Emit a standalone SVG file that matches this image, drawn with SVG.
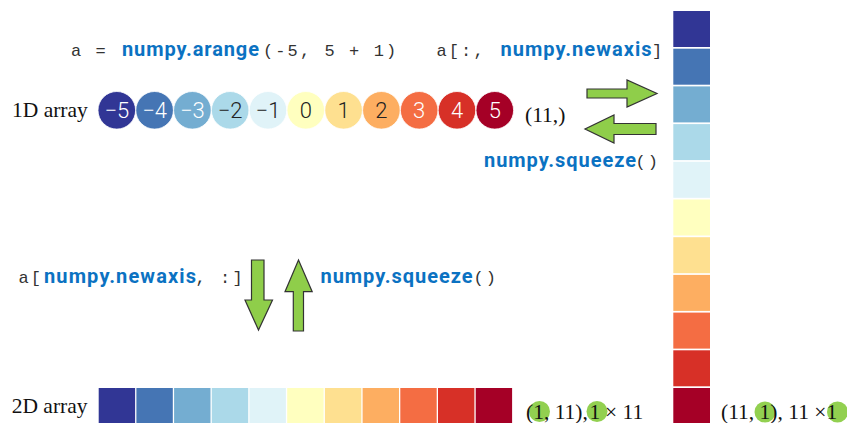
<svg xmlns="http://www.w3.org/2000/svg" width="847" height="423" viewBox="0 0 847 423">
<style>
.mono{font-family:"Liberation Mono","DejaVu Sans Mono",monospace;font-size:17px;fill:#333;letter-spacing:2.1px}
.np{font-family:Roboto,"Liberation Sans",sans-serif;font-weight:bold;font-size:20px;fill:#0b72c2}
.serif{font-family:"Liberation Serif","DejaVu Serif",serif;font-size:21.5px;fill:#111}
.num{font-family:Roboto,"Liberation Sans",sans-serif;font-weight:300;font-size:22px;text-anchor:middle}
.w{fill:#fff}.d{fill:#222}
.arrow{fill:#8fce4a;stroke:#333;stroke-width:1.2;stroke-linejoin:miter}
.hl{fill:#92d050}
.c0{fill:#313695}.c1{fill:#4575b4}.c2{fill:#74add1}.c3{fill:#abd9e9}.c4{fill:#e0f3f8}.c5{fill:#ffffbf}.c6{fill:#fee090}.c7{fill:#fdae61}.c8{fill:#f46d43}.c9{fill:#d73027}.c10{fill:#a50026}
.dot{stroke:#fff;stroke-width:0.8}
</style>

<g id="code-top">
<text class="mono" x="71" y="56">a =</text>
<text class="np" x="122" y="56" textLength="137" lengthAdjust="spacing">numpy.arange</text>
<text class="mono" x="263" y="56" xml:space="preserve">(-5, 5 + 1)</text>
<text class="mono" x="436.5" y="56">a[:,</text>
<text class="np" x="500.5" y="56" textLength="151" lengthAdjust="spacing">numpy.newaxis</text>
<text class="mono" x="652" y="56">]</text>
</g>

<g id="node-1d">
<text class="serif" x="12" y="117.3">1D array</text>
<circle class="c0 dot" cx="116.8" cy="110.3" r="18.8"/>
<circle class="c1 dot" cx="154.6" cy="110.3" r="18.8"/>
<circle class="c2 dot" cx="192.4" cy="110.3" r="18.8"/>
<circle class="c3 dot" cx="230.2" cy="110.3" r="18.8"/>
<circle class="c4 dot" cx="268" cy="110.3" r="18.8"/>
<circle class="c5 dot" cx="305.8" cy="110.3" r="18.8"/>
<circle class="c6 dot" cx="343.6" cy="110.3" r="18.8"/>
<circle class="c7 dot" cx="381.4" cy="110.3" r="18.8"/>
<circle class="c8 dot" cx="419.2" cy="110.3" r="18.8"/>
<circle class="c9 dot" cx="457" cy="110.3" r="18.8"/>
<circle class="c10 dot" cx="494.8" cy="110.3" r="18.8"/>
<text class="num w" x="116.8" y="118">−5</text>
<text class="num w" x="154.6" y="118">−4</text>
<text class="num w" x="192.4" y="118">−3</text>
<text class="num d" x="230.2" y="118">−2</text>
<text class="num d" x="268" y="118">−1</text>
<text class="num d" x="305.8" y="118">0</text>
<text class="num d" x="343.6" y="118">1</text>
<text class="num d" x="381.4" y="118">2</text>
<text class="num w" x="419.2" y="118">3</text>
<text class="num w" x="457" y="118">4</text>
<text class="num w" x="494.8" y="118">5</text>
<text class="serif" x="525" y="122.3">(11,)</text>
</g>

<g id="node-2d-row">
<text class="serif" x="11.7" y="413.3">2D array</text>
<rect class="c0" x="98.7" y="388" width="36.4" height="35"/>
<rect class="c1" x="136.4" y="388" width="36.4" height="35"/>
<rect class="c2" x="174.1" y="388" width="36.4" height="35"/>
<rect class="c3" x="211.8" y="388" width="36.4" height="35"/>
<rect class="c4" x="249.5" y="388" width="36.4" height="35"/>
<rect class="c5" x="287.2" y="388" width="36.4" height="35"/>
<rect class="c6" x="324.9" y="388" width="36.4" height="35"/>
<rect class="c7" x="362.6" y="388" width="36.4" height="35"/>
<rect class="c8" x="400.3" y="388" width="36.4" height="35"/>
<rect class="c9" x="438" y="388" width="36.4" height="35"/>
<rect class="c10" x="475.7" y="388" width="36.4" height="35"/>
<circle class="hl" cx="539.5" cy="411.5" r="10.5"/>
<circle class="hl" cx="597" cy="411.5" r="10.5"/>
<text class="serif" y="418.5"><tspan x="526">(1, 11),</tspan><tspan x="589.5">1</tspan><tspan x="605">×</tspan><tspan x="622.5">11</tspan></text>
</g>

<g id="node-2d-col">
<rect class="c0" x="673.3" y="11" width="36.7" height="36"/>
<rect class="c1" x="673.3" y="48.7" width="36.7" height="36"/>
<rect class="c2" x="673.3" y="86.4" width="36.7" height="36"/>
<rect class="c3" x="673.3" y="124.1" width="36.7" height="36"/>
<rect class="c4" x="673.3" y="161.8" width="36.7" height="36"/>
<rect class="c5" x="673.3" y="199.5" width="36.7" height="36"/>
<rect class="c6" x="673.3" y="237.2" width="36.7" height="36"/>
<rect class="c7" x="673.3" y="274.9" width="36.7" height="36"/>
<rect class="c8" x="673.3" y="312.6" width="36.7" height="36"/>
<rect class="c9" x="673.3" y="350.3" width="36.7" height="36"/>
<rect class="c10" x="673.3" y="388" width="36.7" height="36"/>
<circle class="hl" cx="765" cy="412" r="10.5"/>
<circle class="hl" cx="837.5" cy="412" r="10.5"/>
<text class="serif" x="721" y="418.5" xml:space="preserve">(11, 1), 11 ×1</text>
</g>

<g id="labels">
<text class="np" x="484" y="167" textLength="152" lengthAdjust="spacing">numpy.squeeze</text>
<text class="mono" x="635.5" y="167">()</text>
<text class="mono" x="18.5" y="283.3">a[</text>
<text class="np" x="44" y="283.3" textLength="152" lengthAdjust="spacing">numpy.newaxis</text>
<text class="mono" x="195.5" y="283.3">, :]</text>
<text class="np" x="320.5" y="283.3" textLength="152" lengthAdjust="spacing">numpy.squeeze</text>
<text class="mono" x="473.5" y="283.3">()</text>
</g>

<g id="connectors">
<polygon class="arrow" points="587,89 627,89 627,80 657,93.5 627,107 627,98 587,98"/>
<polygon class="arrow" points="656,123.5 614,123.5 614,115 585,129 614,143 614,134.5 656,134.5"/>
<polygon class="arrow" points="251.5,260 264,260 264,300 272.5,300 258.5,330 245,300 251.5,300"/>
<polygon class="arrow" points="293.3,331 303.5,331 303.5,291.7 312.2,291.7 298.5,260 285,291.7 293.3,291.7"/>
</g>
</svg>
